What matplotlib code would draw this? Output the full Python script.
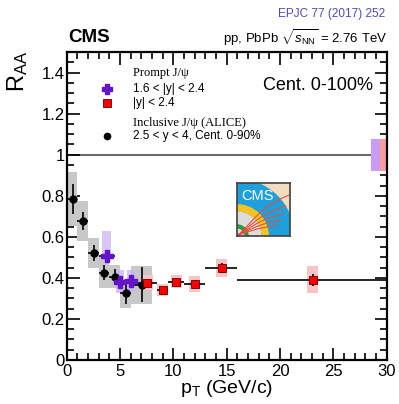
import numpy as np
import matplotlib
matplotlib.use("Agg")
import matplotlib.pyplot as plt
from matplotlib.patches import Rectangle, Wedge
from matplotlib.ticker import MultipleLocator, FuncFormatter

plt.rcParams['font.family'] = ['Liberation Sans', 'DejaVu Sans']
plt.rcParams['mathtext.fontset'] = 'custom'
plt.rcParams['mathtext.rm'] = 'Liberation Sans'
plt.rcParams['mathtext.it'] = 'Liberation Sans:italic'

# ALICE inclusive J/psi, 2.5 < y < 4, 0-90%
alice_pt = [0.56, 1.5, 2.56, 3.5, 4.53, 5.56, 7.09]
alice_lo = [0, 1, 2, 3, 4, 5, 6]
alice_hi = [1, 2, 3, 4, 5, 6, 8]
alice_raa = [0.784, 0.678, 0.52, 0.426, 0.406, 0.325, 0.366]
alice_stat = [0.075, 0.045, 0.04, 0.035, 0.035, 0.05, 0.085]
alice_syst = [0.13, 0.098, 0.072, 0.075, 0.055, 0.07, 0.092]

# CMS prompt J/psi, 1.6 < |y| < 2.4
fwd_pt = [3.75, 5.0, 6.03]
fwd_lo = [3.0, 4.5, 5.5]
fwd_hi = [4.5, 5.5, 6.5]
fwd_raa = [0.507, 0.379, 0.385]
fwd_stat = [0.03, 0.025, 0.025]
fwd_syst_dn = [0.017, 0.055, 0.055]
fwd_syst_up = [0.119, 0.06, 0.055]
fwd_global = 0.077

# CMS prompt J/psi, |y| < 2.4
mid_pt = [7.56, 9.0, 10.3, 12.0, 14.53, 23.06]
mid_lo = [6.5, 8.5, 9.5, 11, 13, 16]
mid_hi = [8.5, 9.5, 11, 13, 16, 30]
mid_raa = [0.377, 0.341, 0.382, 0.371, 0.447, 0.39]
mid_stat = [0.015, 0.012, 0.012, 0.015, 0.025, 0.03]
mid_syst = [0.037, 0.03, 0.03, 0.038, 0.043, 0.066]
mid_global = 0.077

purple = '#6414c8'
red = '#ff0000'

fig = plt.figure(figsize=(3.99, 4.04), dpi=100)
ax = fig.add_axes([0.167, 0.109, 0.802, 0.762])
ax.set_xlim(0, 30)
ax.set_ylim(0, 1.5)

ax.axhline(1.0, color='#666666', lw=1.4, zorder=1)

# systematic boxes
for x0, x1, y, s in zip(alice_lo, alice_hi, alice_raa, alice_syst):
    ax.add_patch(Rectangle((x0, y - s), x1 - x0, 2 * s, fc='#c8c8c8', ec='none', zorder=2))
for x, y, dn, up in zip(fwd_pt, fwd_raa, fwd_syst_dn, fwd_syst_up):
    ax.add_patch(Rectangle((x - 0.4, y - dn), 0.8, dn + up, fc='#cbb4f5', ec='none', alpha=0.75, zorder=3))
for x, y, s in zip(mid_pt, mid_raa, mid_syst):
    ax.add_patch(Rectangle((x - 0.5, y - s), 1.0, 2 * s, fc='#f9c4c4', ec='none', zorder=3))

# global uncertainties at unity
ax.add_patch(Rectangle((28.5, 1 - fwd_global), 0.9, 2 * fwd_global, fc='#c99cf5', ec='none', zorder=2))
ax.add_patch(Rectangle((29.4, 1 - mid_global), 0.6, 2 * mid_global, fc='#f99c9c', ec='none', zorder=2))

def xerr(pt, lo, hi):
    pt = np.array(pt)
    return [pt - np.array(lo), np.array(hi) - pt]

ax.errorbar(alice_pt, alice_raa, yerr=alice_stat, xerr=xerr(alice_pt, alice_lo, alice_hi),
            fmt='o', ms=5, color='black', ecolor='black', elinewidth=1.2, capsize=0, zorder=5)
ax.errorbar(fwd_pt, fwd_raa, yerr=fwd_stat, xerr=xerr(fwd_pt, fwd_lo, fwd_hi),
            fmt='P', ms=8, mfc=purple, mec=purple, ecolor='black', elinewidth=1.2, capsize=0, zorder=6)
ax.errorbar(mid_pt, mid_raa, yerr=mid_stat, xerr=xerr(mid_pt, mid_lo, mid_hi),
            fmt='s', ms=5.5, mfc=red, mec='#600000', mew=0.6, ecolor='black', elinewidth=1.2,
            capsize=0, zorder=6)

# axes style
ax.xaxis.set_major_locator(MultipleLocator(5))
ax.xaxis.set_minor_locator(MultipleLocator(1))
ax.yaxis.set_major_locator(MultipleLocator(0.2))
ax.yaxis.set_minor_locator(MultipleLocator(0.05))
ax.yaxis.set_major_formatter(FuncFormatter(lambda v, p: '%g' % round(v, 2)))
ax.tick_params(which='both', direction='in', top=True, right=True, width=1.2, labelsize=12)
ax.tick_params(which='major', length=9)
ax.tick_params(which='minor', length=5)
ax.tick_params(axis='x', pad=3)
ax.tick_params(axis='y', pad=1.5)
for sp in ax.spines.values():
    sp.set_linewidth(1.6)

ax.set_xlabel(r'p$_{\mathrm{T}}$ (GeV/c)', fontsize=14, labelpad=-1)
fig.text(0.043, 0.875, r'R$_{\mathrm{AA}}$', fontsize=17, rotation=90, ha='center', va='top')

# legend
ax.text(6.2, 1.40, 'Prompt J/ψ', fontsize=9, family=['Liberation Serif', 'DejaVu Serif'], va='center')
ax.plot([3.78], [1.32], 'P', ms=7, color=purple)
ax.text(6.2, 1.32, '1.6 < |y| < 2.4', fontsize=8.5, va='center')
ax.plot([3.78], [1.25], 's', ms=5.5, mfc=red, mec='#600000', mew=0.6)
ax.text(6.2, 1.25, '|y| < 2.4', fontsize=8.5, va='center')
ax.text(6.2, 1.156, 'Inclusive J/ψ (ALICE)', fontsize=9, family=['Liberation Serif', 'DejaVu Serif'],
        va='center')
ax.plot([3.78], [1.09], 'o', ms=4.5, color='black')
ax.text(6.2, 1.09, '2.5 < y < 4, Cent. 0-90%', fontsize=8.5, va='center')

ax.text(0.957, 1.337, 'Cent. 0-100%', transform=ax.get_yaxis_transform(), fontsize=13,
        ha='right', va='center')

fig.text(0.170, 0.907, 'CMS', fontsize=13.5, fontweight='bold', va='center')
fig.text(0.970, 0.893, r'pp, PbPb $\sqrt{s_{\mathrm{NN}}}$ = 2.76 TeV', fontsize=9.5,
         ha='right', va='baseline')
fig.text(0.965, 0.965, 'EPJC 77 (2017) 252', fontsize=8.5, color='#4b4bc8', ha='right', va='center')

# CMS logo
lg = fig.add_axes([0.594, 0.416, 0.133, 0.131])
lg.set_xlim(0, 1)
lg.set_ylim(0, 1)
lg.set_xticks([])
lg.set_yticks([])
lg.add_patch(Rectangle((0, 0), 1, 1, fc='#f4dcc0', ec='none'))
lg.add_patch(Wedge((0, 0), 1.08, 0, 90, fc='#1ea0dc', ec='none'))
lg.add_patch(Wedge((0, 0), 0.6, 0, 90, width=0.14, fc='#f7c41e', ec='none'))
lg.add_patch(Wedge((0, 0), 0.46, 0, 90, fc='#dcdcdc', ec='none'))
lg.add_patch(Wedge((0, 0), 0.22, 0, 90, width=0.08, fc='#2a9a3c', ec='none'))
t = np.linspace(0, 1, 40)
for a, b in [(0.95, 0.75), (0.9, 0.55), (0.85, 0.4), (0.8, 0.28), (0.75, 0.18)]:
    lg.plot(0.02 + a * t, 0.02 + b * t ** 1.4 + 0.25 * b * np.sin(np.pi * t), color='#e8503c', lw=0.8)
lg.text(0.08, 0.76, 'CMS', color='white', fontsize=10.5, va='center', ha='left')
for sp in lg.spines.values():
    sp.set_linewidth(1.2)
    sp.set_color('#404040')

fig.savefig('out.png', dpi=100)
